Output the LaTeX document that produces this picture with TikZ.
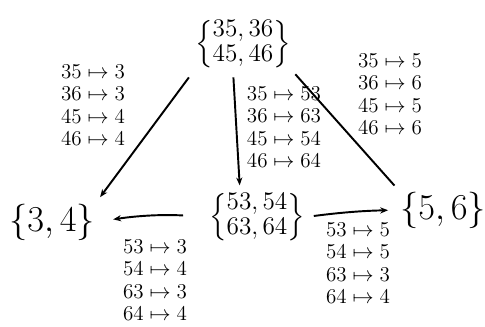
\documentclass[tikz,border=0pt]{standalone}
\usepackage{amsmath,amssymb}
\usetikzlibrary{arrows.meta}

\begin{document}
\begin{tikzpicture}[x=0.02cm, y=-0.02cm, line width=1.1pt, >={Stealth[length=4.5pt,width=3.5pt]},
        setnode/.style={inner sep=0pt, font=\fontsize{20}{24}\selectfont},
        pairnode/.style={inner sep=0pt, font=\fontsize{15}{17}\selectfont},
        maplist/.style={inner sep=0pt, align=left, font=\fontsize{12}{12.8}\selectfont}]

        \useasboundingbox (0,0) rectangle (485,327);

        % ==========================================
        % 1. Sets (nodes)
        % ==========================================
        \node[pairnode] (top) at (243,44) {$\renewcommand{\arraystretch}{0.85}\left\{\begin{array}{@{}c@{}}35,36\\45,46\end{array}\right\}$};
        \node[pairnode] (mid) at (257,217) {$\renewcommand{\arraystretch}{0.85}\left\{\begin{array}{@{}c@{}}53,54\\63,64\end{array}\right\}$};
        \node[setnode] (a34) at (52,222) {$\{3,4\}$};
        \node[setnode] (a56) at (443,210) {$\{5,6\}$};

        % ==========================================
        % 2. Maps (connectors)
        % ==========================================
        \draw[->, shorten <=5pt, shorten >=4pt] (top.south west) -- (a34.north east);
        \draw[->, shorten <=4pt, shorten >=3pt] ([xshift=-0.2cm]top.south) -- ([xshift=-0.34cm]mid.north);
        \draw[shorten <=3pt, shorten >=4pt] (top.south east) -- (a56.north west);
        \draw[->, shorten <=0.5cm, shorten >=0.35cm] (mid.west) to[bend right=6] (a34.east);
        \draw[->, shorten <=0.16cm, shorten >=0.22cm] (mid.east) to[bend left=3] (a56.west);

        % ==========================================
        % 3. Map tables (labels)
        % ==========================================
        \node[maplist] (maptl) at (93,105) {$35\mapsto3$\\$36\mapsto3$\\$45\mapsto4$\\$46\mapsto4$};
        \node[maplist] (maptm) at (284,127) {$35\mapsto53$\\$36\mapsto63$\\$45\mapsto54$\\$46\mapsto64$};
        \node[maplist] (maptr) at (390,94) {$35\mapsto5$\\$36\mapsto6$\\$45\mapsto5$\\$46\mapsto6$};
        \node[maplist] (mapbl) at (155,280) {$53\mapsto3$\\$54\mapsto4$\\$63\mapsto3$\\$64\mapsto4$};
        \node[maplist] (mapbr) at (358,263) {$53\mapsto5$\\$54\mapsto5$\\$63\mapsto3$\\$64\mapsto4$};

\end{tikzpicture}
\end{document}
